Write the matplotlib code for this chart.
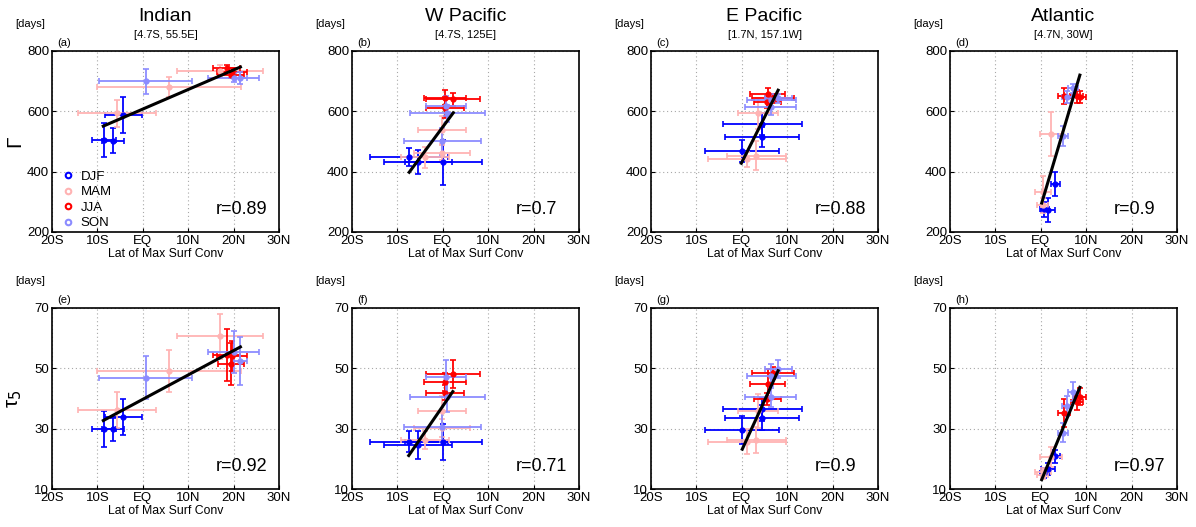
import numpy as np
import matplotlib.pyplot as plt
from matplotlib.lines import Line2D

plt.rcParams['font.family'] = ['Liberation Sans', 'DejaVu Sans']

seasons = ["DJF", "MAM", "JJA", "SON"]
season_colors = ["#0000ff", "#ffb3b3", "#ff0000", "#8c8cff"]

basins = ["Indian", "W Pacific", "E Pacific", "Atlantic"]
locations = ["[4.7S, 55.5E]", "[4.7S, 125E]", "[1.7N, 157.1W]", "[4.7N, 30W]"]
xtick_vals = [-20, -10, 0, 10, 20, 30]
xtick_labels = ["20S", "10S", "EQ", "10N", "20N", "30N"]

# lat of max surf conv, 3 months per season in order DJF, MAM, JJA, SON
indian_lat = [-8.6, -6.6, -4.3, -5.7, 5.8, 17.0, 18.5, 19.6, 19.4, 0.6, 20.0, 21.5]
indian_lat_err = [2.6, 2.4, 4.1, 8.5, 15.8, 9.4, 3.0, 3.3, 2.9, 10.3, 5.7, 1.5]
wpac_lat = [-7.5, -5.5, 0.1, -4.0, -0.1, -0.1, 2.2, 0.5, 0.5, 0.6, 1.0, -0.1]
wpac_lat_err = [8.6, 7.5, 8.5, 5.3, 6.2, 5.3, 6.0, 4.6, 4.2, 4.4, 8.2, 8.5]
epac_lat = [0.1, 4.5, 4.5, 1.1, 3.2, 3.5, 5.7, 6.8, 5.6, 8.0, 6.5, 6.4]
epac_lat_err = [8.2, 8.1, 8.7, 8.6, 6.5, 4.4, 3.9, 4.6, 3.0, 3.0, 5.4, 5.6]
atl_lat = [1.6, 0.8, 3.2, 0.4, 0.5, 2.3, 5.1, 8.0, 8.6, 5.7, 7.1, 4.9]
atl_lat_err = [1.5, 1.0, 1.0, 1.2, 1.8, 2.4, 1.4, 1.4, 1.4, 1.1, 1.1, 1.2]

# Gamma [days]
indian_gamma = [505, 503, 588, 593, 681, 735, 742, 731, 722, 699, 712, 710]
indian_gamma_err = [55, 42, 60, 46, 33, 20, 12, 12, 10, 40, 15, 20]
wpac_gamma = [450, 431, 431, 448, 463, 538, 640, 645, 612, 617, 593, 500]
wpac_gamma_err = [30, 40, 74, 35, 25, 45, 22, 25, 35, 33, 28, 45]
epac_gamma = [469, 516, 557, 441, 453, 593, 656, 643, 630, 643, 637, 613]
epac_gamma_err = [37, 33, 37, 25, 47, 50, 20, 15, 20, 15, 20, 25]
atl_gamma = [274, 276, 359, 288, 334, 524, 651, 650, 648, 646, 676, 518]
atl_gamma_err = [40, 25, 40, 25, 50, 73, 28, 22, 20, 20, 15, 33]

# tau_5 [days]
indian_tau = [29.8, 29.8, 33.8, 36.2, 49.2, 60.6, 54.4, 54.0, 51.4, 46.9, 55.5, 52.4]
indian_tau_err = [6.0, 3.8, 6.0, 6.0, 7.0, 7.4, 8.5, 5.0, 7.0, 7.2, 7.0, 8.0]
wpac_tau = [25.7, 24.6, 25.6, 26.3, 30.1, 35.7, 48.1, 45.4, 41.9, 47.2, 40.6, 30.7]
wpac_tau_err = [3.6, 4.5, 5.9, 3.0, 3.0, 5.0, 4.5, 3.0, 2.5, 5.5, 5.0, 5.0]
epac_tau = [29.6, 33.7, 36.4, 25.7, 26.3, 35.9, 44.7, 48.5, 39.7, 49.7, 47.5, 40.6]
epac_tau_err = [4.7, 4.0, 3.7, 4.2, 4.4, 5.7, 5.0, 2.0, 2.0, 3.0, 4.0, 3.5]
atl_tau = [16.7, 15.3, 20.8, 14.7, 15.5, 20.6, 35.3, 38.7, 40.6, 37.6, 42.3, 28.7]
atl_tau_err = [2.0, 1.5, 2.2, 1.5, 1.5, 3.3, 4.7, 2.5, 2.8, 3.3, 3.1, 3.1]

# regression line end points and correlations
gamma_fit_x = [[-8.7, 21.5], [-7.4, 2.3], [-0.1, 8.0], [0.2, 8.6]]
gamma_fit_y = [[551, 747], [398, 595], [428, 670], [296, 720]]
gamma_r = ["0.89", "0.7", "0.88", "0.9"]
tau_fit_x = [[-8.7, 21.5], [-7.5, 2.2], [0.1, 8.0], [0.2, 8.6]]
tau_fit_y = [[32.7, 57.1], [21.1, 42.3], [23.2, 49.2], [13.1, 43.7]]
tau_r = ["0.92", "0.71", "0.9", "0.97"]

lats = [indian_lat, wpac_lat, epac_lat, atl_lat]
lat_errs = [indian_lat_err, wpac_lat_err, epac_lat_err, atl_lat_err]
gammas = [indian_gamma, wpac_gamma, epac_gamma, atl_gamma]
gamma_errs = [indian_gamma_err, wpac_gamma_err, epac_gamma_err, atl_gamma_err]
taus = [indian_tau, wpac_tau, epac_tau, atl_tau]
tau_errs = [indian_tau_err, wpac_tau_err, epac_tau_err, atl_tau_err]

fig = plt.figure(figsize=(11.96, 5.27), dpi=100)

W, H = 1196.0, 527.0
col_left = [52, 352, 651, 950]
row_top = [51, 308]
ax_w, ax_h = 227, 181
letters = "abcdefgh"

rows = [
    dict(vals=gammas, errs=gamma_errs, fx=gamma_fit_x, fy=gamma_fit_y, r=gamma_r,
         ylim=(200, 800), yticks=[200, 400, 600, 800], ylabel="Γ"),
    dict(vals=taus, errs=tau_errs, fx=tau_fit_x, fy=tau_fit_y, r=tau_r,
         ylim=(10, 70), yticks=[10, 30, 50, 70], ylabel=r"τ$_5$"),
]

for ri, row in enumerate(rows):
    for ci in range(4):
        left = col_left[ci] / W
        bottom = 1 - (row_top[ri] + ax_h) / H
        ax = fig.add_axes([left, bottom, ax_w / W, ax_h / H])

        lat = np.array(lats[ci])
        lat_e = np.array(lat_errs[ci])
        val = np.array(row["vals"][ci])
        val_e = np.array(row["errs"][ci])
        for k, c in enumerate(season_colors):
            sl = slice(3 * k, 3 * k + 3)
            ax.errorbar(lat[sl], val[sl], xerr=lat_e[sl], yerr=val_e[sl], fmt="o",
                        color=c, ms=3.5, elinewidth=1.3, capsize=2.5, capthick=1.2,
                        zorder=3)
        ax.plot(row["fx"][ci], row["fy"][ci], color="k", lw=2.2, zorder=5)

        ax.set_xlim(-20, 30)
        ax.set_ylim(*row["ylim"])
        ax.set_xticks(xtick_vals)
        ax.set_xticklabels(xtick_labels)
        ax.set_yticks(row["yticks"])
        ax.tick_params(direction="in", length=3, labelsize=9.5, pad=2)
        ax.grid(True, linestyle=(0, (1, 2.5)), color="#a8a8a8", linewidth=0.8)
        for s in ax.spines.values():
            s.set_linewidth(1.2)
        ax.set_xlabel("Lat of Max Surf Conv", fontsize=8.8, labelpad=1)

        ax.text(-0.163, 1.15, "[days]", transform=ax.transAxes, fontsize=8,
                ha="left", va="center")
        ax.text(0.022, 1.045, "(%s)" % letters[ri * 4 + ci], transform=ax.transAxes,
                fontsize=8, ha="left", va="center")
        ax.text(0.72, 0.125, "r=" + row["r"][ci], transform=ax.transAxes,
                fontsize=13, ha="left", va="center")

        if ri == 0:
            ax.text(0.5, 1.19, basins[ci], transform=ax.transAxes, fontsize=14,
                    ha="center", va="center")
            ax.text(0.5, 1.09, locations[ci], transform=ax.transAxes, fontsize=8,
                    ha="center", va="center")
        if ci == 0:
            ax.text(-0.165, 0.5, row["ylabel"], transform=ax.transAxes, fontsize=15,
                    rotation=90, ha="center", va="center")
        if ri == 0 and ci == 0:
            handles = [Line2D([], [], marker="o", ls="", mfc="none", mec=c, mew=1.5, ms=4)
                       for c in season_colors]
            ax.legend(handles, seasons, loc="lower left", bbox_to_anchor=(0.022, 0.0),
                      frameon=False, fontsize=9.5,
                      handletextpad=0.4, labelspacing=0.25, borderaxespad=0.0,
                      borderpad=0.2, handlelength=1.2)

fig.savefig("out.png", dpi=100)
